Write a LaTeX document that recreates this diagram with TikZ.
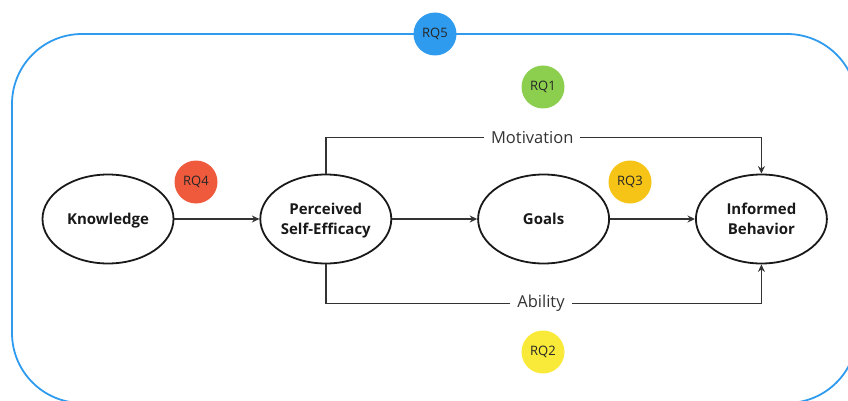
\documentclass[tikz,border=0pt]{standalone}
\usepackage{fontspec}
\setmainfont{Open Sans}
\usetikzlibrary{arrows,arrows.meta,shapes.geometric,positioning}

\definecolor{rqblue}{HTML}{2F9BEE}
\definecolor{rqgreen}{HTML}{8CCF4E}
\definecolor{rqred}{HTML}{F05A3C}
\definecolor{rqorange}{HTML}{F6C417}
\definecolor{rqyellow}{HTML}{F9EA3A}
\definecolor{ink}{HTML}{333333}

\begin{document}
\begin{tikzpicture}[x=1pt,y=-1pt,auto]
\tikzstyle{concept} = [ellipse, draw=black!90, line width=1.8pt,
minimum width=131pt, minimum height=89pt, inner sep=0pt, align=center,
text depth=0pt, font=\fontsize{15}{20}\selectfont\bfseries, text=black!90]
\tikzstyle{rq} = [circle, minimum size=43pt, inner sep=0pt,
font=\fontsize{13}{15}\selectfont, text=black!85]
\tikzstyle{line} = [draw=ink, line width=1.6pt, -{Stealth[length=7.5pt,width=7pt]}];
\tikzstyle{lbl} = [anchor=center, fill=white, text=ink, inner xsep=7pt, inner ysep=2pt,
font=\fontsize{16.5}{18}\selectfont];

\useasboundingbox (0,0) rectangle (848,401);
\clip (0,0) rectangle (848,401);

% frame round the whole model
\draw [rqblue, line width=1.8pt, rounded corners=70pt] (12,34) rectangle (857,403);

% row of concepts
\node [concept] (know) at (108,219) {Knowledge};
\node [concept, right=85pt of know] (pse) {Perceived\\Self-Efficacy};
\node [concept, right=85pt of pse] (goals) {Goals};
\node [concept, right=85pt of goals] (behav) {Informed\\Behavior};

% research questions
\node [rq, fill=rqblue] (rq5) at (435,34) {RQ5};
\node [rq, fill=rqgreen] (rq1) at (543,87) {RQ1};
\node [rq, fill=rqred] (rq4) at (196,182) {RQ4};
\node [rq, fill=rqorange] (rq3) at (630,182) {RQ3};
\node [rq, fill=rqyellow] (rq2) at (543,352) {RQ2};

\tikzstyle{every path}=[line]
\path (know) -- (pse);
\path (pse) -- (goals);
\path (goals) -- (behav);
\path (pse.north) -- ++(0,-36) -| node [lbl, pos=0.237] {Motivation} (behav.north);
\path (pse.south) -- ++(0,39) -| node [lbl, pos=0.247] {Ability} (behav.south);

\end{tikzpicture}
\end{document}
